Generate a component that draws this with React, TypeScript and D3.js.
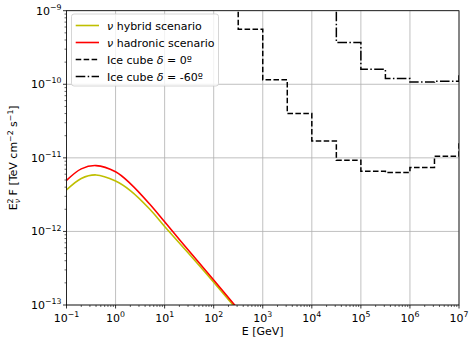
import React from "react";
import * as d3 from "d3";

// ---- data ----
const energyGeV = [0.1, 0.2, 0.4, 1, 2, 5, 10, 30, 100, 1000];
const hadronicF = [4.93e-12, 7.08e-12, 7.85e-12, 6.46e-12, 4.47e-12, 2.34e-12, 1.35e-12, 5.62e-13, 2.19e-13, 3.47e-14];
const hybridF = [3.66e-12, 5.25e-12, 5.86e-12, 4.84e-12, 3.59e-12, 2.0e-12, 1.17e-12, 5.13e-13, 2.04e-13, 3.31e-14];

const ic0Edges = [1e2, 316.2, 1e3, 3162, 1e4, 31623, 1e5, 316228, 1e6, 3162278, 1e7, 31622777];
const ic0Values = [2e-9, 5.6e-10, 1.15e-10, 4.0e-11, 1.7e-11, 9.3e-12, 6.6e-12, 6.3e-12, 7.4e-12, 1.05e-11, 1.6e-11];

const ic60Edges = [1e4, 31623, 1e5, 316228, 1e6, 3162278, 1e7, 31622777];
const ic60Values = [2e-9, 3.7e-10, 1.6e-10, 1.2e-10, 1.07e-10, 1.1e-10, 1.3e-10];

const xTickExps = [-1, 0, 1, 2, 3, 4, 5, 6, 7];
const yTickExps = [-13, -12, -11, -10, -9];

const legendLabels = ["hybrid scenario", "hadronic scenario", "Ice cube ", "Ice cube "];

// ---- layout ----
const W = 469, H = 340;
const L = 66.5, R = 459, T = 10.7, B = 305;
const FONT = "DejaVu Sans, sans-serif";
const FS = 11;
const SFS = 7.8;

export default function App() {
  const x = d3.scaleLog().domain([1e-1, 1e7]).range([L, R]);
  const y = d3.scaleLog().domain([1e-13, 1e-9]).range([B, T]);

  const curve = d3
    .line<[number, number]>()
    .x((d) => x(d[0]))
    .y((d) => y(d[1]))
    .curve(d3.curveCatmullRom.alpha(0.5));

  const step = d3
    .line<[number, number]>()
    .x((d) => x(d[0]))
    .y((d) => y(d[1]))
    .curve(d3.curveStepAfter);

  const stepPts = (edges: number[], vals: number[]): [number, number][] => {
    const pts: [number, number][] = vals.map((v, i) => [edges[i], v]);
    pts.push([edges[edges.length - 1], vals[vals.length - 1]]);
    return pts;
  };

  const hadPts = energyGeV.map((e, i) => [e, hadronicF[i]] as [number, number]);
  const hybPts = energyGeV.map((e, i) => [e, hybridF[i]] as [number, number]);

  const xMinor: number[] = [];
  for (let k = -1; k < 7; k++) for (let m = 2; m <= 9; m++) xMinor.push(m * Math.pow(10, k));
  const yMinor: number[] = [];
  for (let k = -13; k < -9; k++) for (let m = 2; m <= 9; m++) yMinor.push(m * Math.pow(10, k));

  const dash = "5.55,2.4";
  const dashDot = "9.6,2.4,1.5,2.4";

  const legendRows = [
    { color: "#bfbf00", dash: null as string | null },
    { color: "#ff0000", dash: null },
    { color: "#000", dash: dash },
    { color: "#000", dash: dashDot },
  ];

  return (
    <svg
      width={W}
      height={H}
      style={{ position: "absolute", left: 0, top: 0, background: "#fff" }}
      fontFamily={FONT}
    >
      <defs>
        <clipPath id="plotclip">
          <rect x={L} y={T} width={R - L} height={B - T} />
        </clipPath>
      </defs>
      <rect x={0} y={0} width={W} height={H} fill="#fff" />

      {/* grid */}
      {xTickExps.map((e) => (
        <line key={"gx" + e} x1={x(Math.pow(10, e))} x2={x(Math.pow(10, e))} y1={T} y2={B} stroke="#b0b0b0" strokeWidth={0.8} />
      ))}
      {yTickExps.map((e) => (
        <line key={"gy" + e} x1={L} x2={R} y1={y(Math.pow(10, e))} y2={y(Math.pow(10, e))} stroke="#b0b0b0" strokeWidth={0.8} />
      ))}

      {/* data */}
      <g clipPath="url(#plotclip)" fill="none">
        <path d={curve(hybPts) || ""} stroke="#bfbf00" strokeWidth={1.6} />
        <path d={curve(hadPts) || ""} stroke="#ff0000" strokeWidth={1.6} />
        <path d={step(stepPts(ic0Edges, ic0Values)) || ""} stroke="#000" strokeWidth={1.5} strokeDasharray={dash} />
        <path d={step(stepPts(ic60Edges, ic60Values)) || ""} stroke="#000" strokeWidth={1.5} strokeDasharray={dashDot} />
      </g>

      {/* frame */}
      <rect x={L} y={T} width={R - L} height={B - T} fill="none" stroke="#000" strokeWidth={0.8} />

      {/* x ticks */}
      {xTickExps.map((e) => (
        <g key={"xt" + e}>
          <line x1={x(Math.pow(10, e))} x2={x(Math.pow(10, e))} y1={B} y2={B + 3.5} stroke="#000" strokeWidth={0.8} />
          <text x={x(Math.pow(10, e))} y={B + 16.5} fontSize={FS} textAnchor="middle" fill="#000">
            10
            <tspan dy={-4.8} fontSize={SFS}>{e < 0 ? "\u2212" + Math.abs(e) : String(e)}</tspan>
          </text>
        </g>
      ))}
      {xMinor.map((v, i) => (
        <line key={"xm" + i} x1={x(v)} x2={x(v)} y1={B} y2={B + 2} stroke="#000" strokeWidth={0.6} />
      ))}

      {/* y ticks */}
      {yTickExps.map((e) => (
        <g key={"yt" + e}>
          <line x1={L - 3.5} x2={L} y1={y(Math.pow(10, e))} y2={y(Math.pow(10, e))} stroke="#000" strokeWidth={0.8} />
          <text x={L - 5} y={y(Math.pow(10, e)) + 4} fontSize={FS} textAnchor="end" fill="#000">
            10
            <tspan dy={-4.8} fontSize={SFS}>{"\u2212" + Math.abs(e)}</tspan>
          </text>
        </g>
      ))}
      {yMinor.map((v, i) => (
        <line key={"ym" + i} x1={L - 2} x2={L} y1={y(v)} y2={y(v)} stroke="#000" strokeWidth={0.6} />
      ))}

      {/* axis labels */}
      <text x={(L + R) / 2} y={335} fontSize={FS} textAnchor="middle" fill="#000">
        E [GeV]
      </text>
      <text
        transform={`translate(17,${(T + B) / 2}) rotate(-90)`}
        fontSize={FS}
        textAnchor="middle"
        fill="#000"
      >
        E<tspan dy={-4.5} fontSize={SFS}>2</tspan>
        <tspan dx={-4.8} dy={7.5} fontSize={SFS} fontStyle="italic">ν</tspan>
        <tspan dy={-3}> F [TeV cm</tspan>
        <tspan dy={-4.5} fontSize={SFS}>−2</tspan>
        <tspan dy={4.5}> s</tspan>
        <tspan dy={-4.5} fontSize={SFS}>−1</tspan>
        <tspan dy={4.5}>]</tspan>
      </text>

      {/* legend */}
      <g>
        <rect x={71.5} y={14} width={147} height={72} rx={2.5} fill="#fff" fillOpacity={0.8} stroke="#cccccc" strokeWidth={0.8} />
        {legendRows.map((r, i) => {
          const ly = 25.5 + i * 17;
          return (
            <g key={"lg" + i}>
              <line x1={75.7} x2={99} y1={ly} y2={ly} stroke={r.color} strokeWidth={1.6} strokeDasharray={r.dash || undefined} />
              <text x={107} y={ly + 4} fontSize={FS} fill="#000">
                {i < 2 ? (
                  <>
                    <tspan fontStyle="italic">ν</tspan> {legendLabels[i]}
                  </>
                ) : (
                  <>
                    {legendLabels[i]}
                    <tspan fontStyle="italic">δ</tspan>
                    {i === 2 ? " = 0º" : " = -60º"}
                  </>
                )}
              </text>
            </g>
          );
        })}
      </g>
    </svg>
  );
}
